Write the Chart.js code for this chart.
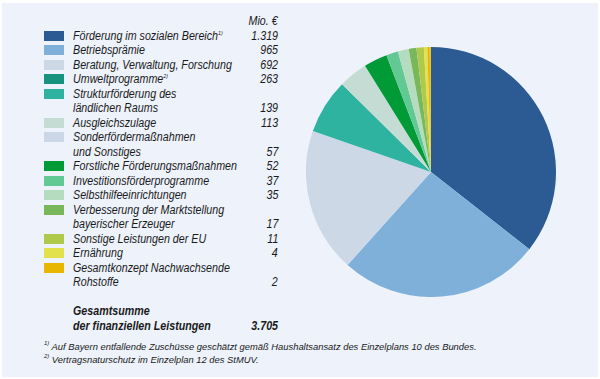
<!DOCTYPE html>
<html>
<head>
<meta charset="utf-8">
<script src="https://cdn.jsdelivr.net/npm/chart.js@4"></script>
<style>
  html, body { margin: 0; padding: 0; }
  body { width: 600px; height: 379px; background: #fff; position: relative; overflow: hidden;
         font-family: "Liberation Sans", Arial, sans-serif; }
  #frame { position: absolute; left: 2px; top: 3px; width: 596px; height: 374px; background: #edf2fb; }
  #legend { position: absolute; left: 44px; top: 14px; width: 234px; font-style: italic; font-size: 12px; color: #1a1a1a; }
  .line { position: relative; height: 14.5px; line-height: 14.5px; }
  .sw { position: absolute; left: 0; top: 2px; width: 20px; height: 10px; }
  .txt { position: absolute; left: 29px; white-space: nowrap; transform-origin: left center; }
  .val { position: absolute; right: 0; white-space: nowrap; transform-origin: right center; }
  .bold { font-weight: bold; }
  sup { font-size: 6px; vertical-align: 5px; line-height: 0; }
  #notes { position: absolute; left: 44px; top: 340px; font-style: italic; font-size: 9.5px; line-height: 13px; color: #1a1a1a; }
  #notes div { white-space: nowrap; transform-origin: left center; }
  #pie { position: absolute; left: 306px; top: 47px; }
</style>
</head>
<body>
<div id="frame"></div>
<div id="legend"></div>
<div id="notes">
  <div><sup>1)</sup> Auf Bayern entfallende Zuschüsse geschätzt gemäß Haushaltsansatz des Einzelplans 10 des Bundes.</div>
  <div><sup>2)</sup> Vertragsnaturschutz im Einzelplan 12 des StMUV.</div>
</div>
<canvas id="pie" width="250" height="250"></canvas>
<script>
// Kategorien (mehrzeilige Beschriftung als Array)
const categories = [
  ['Förderung im sozialen Bereich<sup>1)</sup>'],
  ['Betriebsprämie'],
  ['Beratung, Verwaltung, Forschung'],
  ['Umweltprogramme<sup>2)</sup>'],
  ['Strukturförderung des', 'ländlichen Raums'],
  ['Ausgleichszulage'],
  ['Sonderfördermaßnahmen', 'und Sonstiges'],
  ['Forstliche Förderungsmaßnahmen'],
  ['Investitionsförderprogramme'],
  ['Selbsthilfeeinrichtungen'],
  ['Verbesserung der Marktstellung', 'bayerischer Erzeuger'],
  ['Sonstige Leistungen der EU'],
  ['Ernährung'],
  ['Gesamtkonzept Nachwachsende', 'Rohstoffe']
];
// Mio. €
const values = [1319, 965, 692, 263, 139, 113, 57, 52, 37, 35, 17, 11, 4, 2];
const total = 3705;

const legendColors = ['#2c5a92', '#7eb0d9', '#ccd8e6', '#17927f', '#2db3a0', '#c5dcd4', '#cbd7e7',
                      '#009a36', '#62c994', '#b6dcbf', '#78b85a', '#b0c94a', '#e2e14c', '#e8b600'];
// Farben der Tortenstücke wie im Original (gegenüber Legende verschoben)
const pieColors = ['#2c5a92', '#7eb0d9', '#ccd8e6', '#2db3a0', '#c5dcd4', '#009a36', '#62c994',
                   '#b6dcbf', '#78b85a', '#b0c94a', '#e2e14c', '#e8b600', '#e8b600', '#e8b600'];

const fmt = v => v.toLocaleString('de-DE');

// Schmalschrift nachbilden: horizontal stauchen
const mctx = document.createElement('canvas').getContext('2d');
mctx.font = 'italic 12px "Liberation Sans"';
const sx = 145 / mctx.measureText('Förderung im sozialen Bereich').width;
mctx.font = 'italic 9.5px "Liberation Sans"';
const sxNote = 425 / mctx.measureText('Auf Bayern entfallende Zuschüsse geschätzt gemäß Haushaltsansatz des Einzelplans 10 des Bundes.').width;

// Legende
const legend = document.getElementById('legend');
let html = '<div class="line"><span class="val">Mio. €</span></div>';
categories.forEach((lines, i) => {
  lines.forEach((t, j) => {
    html += '<div class="line">';
    if (j === 0) html += '<span class="sw" style="background:' + legendColors[i] + '"></span>';
    html += '<span class="txt">' + t + '</span>';
    if (j === lines.length - 1) html += '<span class="val">' + fmt(values[i]) + '</span>';
    html += '</div>';
  });
});
html += '<div class="line"></div>';
html += '<div class="line bold"><span class="txt">Gesamtsumme</span></div>';
html += '<div class="line bold"><span class="txt">der finanziellen Leistungen</span><span class="val">' + fmt(total) + '</span></div>';
legend.innerHTML = html;
legend.querySelectorAll('.txt, .val').forEach(el => { el.style.transform = 'scaleX(' + sx + ')'; });
document.querySelectorAll('#notes div').forEach(el => { el.style.transform = 'scaleX(' + sxNote + ')'; });

// Kreisdiagramm
new Chart(document.getElementById('pie'), {
  type: 'pie',
  data: {
    labels: categories.map(c => c.join(' ')),
    datasets: [{
      data: values,
      backgroundColor: pieColors,
      borderWidth: 0
    }]
  },
  options: {
    responsive: false,
    animation: false,
    layout: { padding: 0 },
    plugins: {
      legend: { display: false },
      tooltip: { enabled: false }
    }
  }
});
</script>
</body>
</html>
